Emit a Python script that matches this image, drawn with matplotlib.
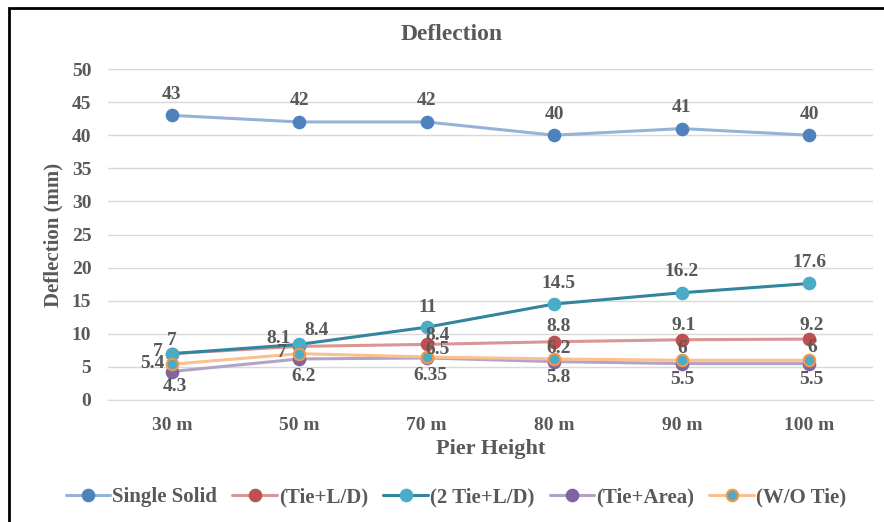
import matplotlib
matplotlib.use("Agg")
import matplotlib.pyplot as plt
from matplotlib.patches import Rectangle

categories = ["30 m", "50 m", "70 m", "80 m", "90 m", "100 m"]
single_solid = [43, 42, 42, 40, 41, 40]
tie_ld = [7, 8.1, 8.4, 8.8, 9.1, 9.2]
two_tie_ld = [7, 8.4, 11, 14.5, 16.2, 17.6]
tie_area = [4.3, 6.2, 6.35, 5.8, 5.5, 5.5]
wo_tie = [5.4, 7, 6.5, 6.2, 6, 6]
y_ticks = [0, 5, 10, 15, 20, 25, 30, 35, 40, 45, 50]

plt.rcParams['font.family'] = ['Liberation Serif', 'DejaVu Serif']
txt = '#595959'

fig = plt.figure(figsize=(8.84, 5.22), dpi=100)
W, H = 884, 522
ax = fig.add_axes([108 / W, 1 - 400 / H, (873 - 108) / W, (400 - 69) / H])

x = list(range(len(categories)))

# label offsets (pixels, dx right, dy up) of each data label's centre
lab_off = {
    "Single Solid": [(0, 21)] * 6,
    "(Tie+L/D)": [(-14, 2), (-21, 8), (11, 9), (4, 15), (2, 14), (2, 14)],
    "(2 Tie+L/D)": [(0, 13), (17, 14), (1, 20), (4, 21), (0, 21), (0, 21)],
    "(Tie+Area)": [(3, -15), (4, -18), (4, -18), (4, -16), (1, -16), (2, -16)],
    "(W/O Tie)": [(-19, 1), (-18, 1), (11, 7), (4, 10), (1, 12), (3, 13)],
}

series = [
    ("Single Solid", single_solid, '#95B3D7', '#4F81BD', '#4F81BD'),
    ("(Tie+L/D)", tie_ld, '#D99694', '#C0504D', '#C0504D'),
    ("(2 Tie+L/D)", two_tie_ld, '#31859C', '#4BACC6', '#4BACC6'),
    ("(Tie+Area)", tie_area, '#B3A2C7', '#8064A2', '#8064A2'),
    ("(W/O Tie)", wo_tie, '#FAC090', '#4BACC6', '#F79646'),
]

handles = []
for name, vals, lc, mfc, mec in series:
    ln, = ax.plot(x, vals, color=lc, lw=2.2, marker='o', ms=8.3,
                  markerfacecolor=mfc, markeredgecolor=mec, markeredgewidth=1.5,
                  label=name, zorder=3, solid_capstyle='round')
    handles.append(ln)
    for i, v in enumerate(vals):
        dx, dy = lab_off[name][i]
        ax.annotate(f"{v:g}", (i, v), xytext=(dx * 0.72, dy * 0.72), textcoords='offset points',
                    ha='center', va='center', fontsize=14, fontweight='bold', color=txt, zorder=5)

ax.set_xlim(-0.5, len(categories) - 0.5)
ax.set_ylim(0, 50)
ax.set_yticks(y_ticks)
ax.set_xticks(x)
ax.set_xticklabels(categories)
ax.grid(axis='y', color='#D9D9D9', lw=1)
ax.set_axisbelow(True)
for s in ax.spines.values():
    s.set_visible(False)
ax.spines['bottom'].set_visible(True)
ax.spines['bottom'].set_color('#D9D9D9')
ax.tick_params(length=0, labelsize=14, labelcolor=txt)
ax.tick_params(axis='y', pad=12)
ax.tick_params(axis='x', pad=12)
for lab in ax.get_xticklabels() + ax.get_yticklabels():
    lab.set_fontweight('bold')

ax.set_xlabel("Pier Height", fontsize=16, fontweight='bold', color=txt, labelpad=4)
ax.set_ylabel("Deflection (mm)", fontsize=15, fontweight='bold', color=txt, labelpad=6)
fig.text(452 / W, 1 - 35 / H, "Deflection", ha='center', va='center',
         fontsize=17, fontweight='bold', color=txt)

leg = fig.legend(handles=handles, loc='center', bbox_to_anchor=(456 / W, 1 - 497 / H),
                 ncol=5, frameon=False, fontsize=15, handlelength=2.15, columnspacing=0.72,
                 handletextpad=0.1)
for t in leg.get_texts():
    t.set_fontweight('bold')
    t.set_color(txt)

fig.patches.append(Rectangle((9 / W, -0.1), 1.2, 1 - 8 / H + 0.1, transform=fig.transFigure,
                             fill=False, edgecolor='black', lw=2))

fig.savefig("out.png", dpi=100)
